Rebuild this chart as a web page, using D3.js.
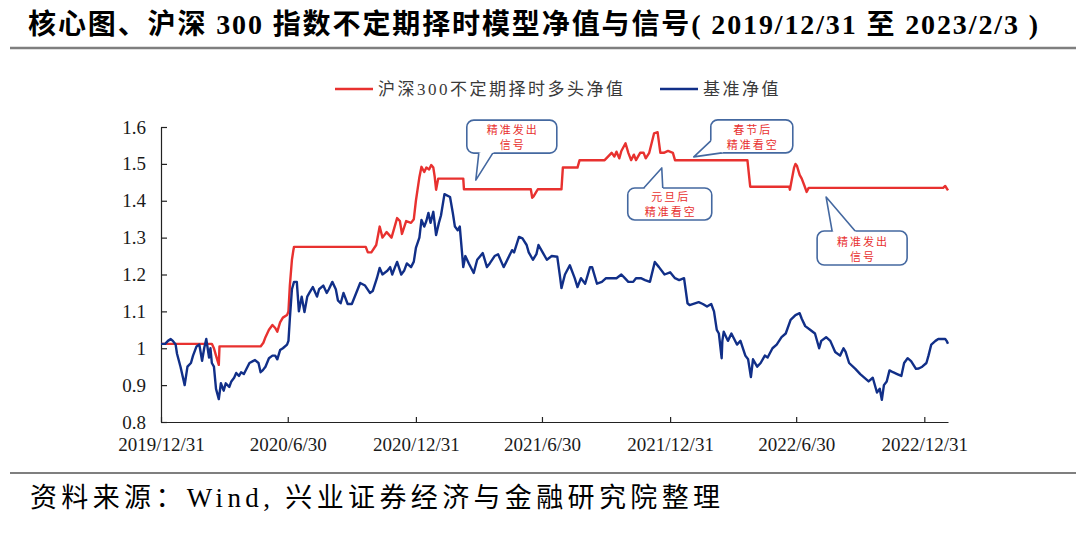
<!DOCTYPE html>
<html><head><meta charset="utf-8">
<script src="https://cdn.jsdelivr.net/npm/d3@7"></script>
<style>body{margin:0;background:#fff} svg{display:block}</style>
</head><body>
<script>
// ---------------- DATA ----------------
const baseDates = ["2019-12-31","2020-01-06","2020-01-10","2020-01-14","2020-01-17","2020-01-21","2020-01-23","2020-01-28","2020-02-03","2020-02-07","2020-02-12","2020-02-15","2020-02-20","2020-02-24","2020-02-28","2020-03-02","2020-03-05","2020-03-09","2020-03-11","2020-03-13","2020-03-16","2020-03-19","2020-03-23","2020-03-26","2020-03-30","2020-04-02","2020-04-07","2020-04-10","2020-04-14","2020-04-17","2020-04-21","2020-04-24","2020-04-28","2020-05-06","2020-05-11","2020-05-14","2020-05-19","2020-05-22","2020-05-25","2020-05-29","2020-06-03","2020-06-08","2020-06-12","2020-06-15","2020-06-19","2020-06-23","2020-06-29","2020-07-01","2020-07-03","2020-07-06","2020-07-09","2020-07-13","2020-07-16","2020-07-20","2020-07-24","2020-07-28","2020-07-31","2020-08-05","2020-08-11","2020-08-14","2020-08-20","2020-08-25","2020-08-28","2020-09-02","2020-09-07","2020-09-10","2020-09-14","2020-09-18","2020-09-24","2020-09-30","2020-10-12","2020-10-19","2020-10-26","2020-10-30","2020-11-05","2020-11-09","2020-11-13","2020-11-20","2020-11-24","2020-11-27","2020-12-01","2020-12-04","2020-12-10","2020-12-14","2020-12-18","2020-12-24","2020-12-28","2020-12-31","2021-01-05","2021-01-08","2021-01-12","2021-01-15","2021-01-18","2021-01-21","2021-01-25","2021-01-29","2021-02-02","2021-02-05","2021-02-10","2021-02-18","2021-02-22","2021-02-25","2021-03-01","2021-03-04","2021-03-09","2021-03-12","2021-03-17","2021-03-24","2021-03-29","2021-04-06","2021-04-12","2021-04-16","2021-04-23","2021-04-28","2021-05-06","2021-05-10","2021-05-18","2021-05-21","2021-05-28","2021-06-02","2021-06-08","2021-06-11","2021-06-17","2021-06-22","2021-06-25","2021-07-01","2021-07-07","2021-07-14","2021-07-22","2021-07-26","2021-07-28","2021-08-02","2021-08-09","2021-08-16","2021-08-20","2021-08-25","2021-08-31","2021-09-07","2021-09-10","2021-09-17","2021-09-24","2021-09-30","2021-10-11","2021-10-15","2021-10-22","2021-10-27","2021-11-01","2021-11-08","2021-11-12","2021-11-19","2021-11-25","2021-12-02","2021-12-09","2021-12-15","2021-12-23","2021-12-31","2022-01-07","2022-01-13","2022-01-20","2022-01-25","2022-01-28","2022-02-10","2022-02-16","2022-02-22","2022-02-28","2022-03-04","2022-03-08","2022-03-11","2022-03-15","2022-03-16","2022-03-18","2022-03-24","2022-03-29","2022-04-06","2022-04-11","2022-04-18","2022-04-22","2022-04-26","2022-04-29","2022-05-05","2022-05-10","2022-05-16","2022-05-20","2022-05-27","2022-06-02","2022-06-09","2022-06-15","2022-06-22","2022-06-29","2022-07-05","2022-07-08","2022-07-13","2022-07-20","2022-07-27","2022-08-02","2022-08-05","2022-08-12","2022-08-18","2022-08-25","2022-09-01","2022-09-06","2022-09-09","2022-09-14","2022-09-23","2022-09-30","2022-10-12","2022-10-18","2022-10-24","2022-10-28","2022-10-31","2022-11-03","2022-11-07","2022-11-11","2022-11-16","2022-11-22","2022-11-28","2022-12-02","2022-12-07","2022-12-12","2022-12-19","2022-12-23","2022-12-28","2023-01-03","2023-01-06","2023-01-10","2023-01-16","2023-01-20","2023-01-30","2023-02-01","2023-02-03"];
const baseValues = [1.012,1.012,1.02,1.025,1.02,1.01,0.985,0.95,0.90,0.95,0.96,0.98,1.005,1.01,0.966,1.0,1.025,0.975,1.0,0.96,0.95,0.89,0.862,0.905,0.885,0.905,0.895,0.91,0.92,0.933,0.925,0.935,0.93,0.96,0.965,0.968,0.96,0.935,0.94,0.95,0.973,0.98,0.98,0.97,0.995,1.0,1.01,1.02,1.08,1.16,1.18,1.18,1.10,1.14,1.098,1.14,1.15,1.166,1.14,1.16,1.17,1.15,1.16,1.18,1.16,1.13,1.122,1.15,1.12,1.12,1.177,1.17,1.15,1.155,1.19,1.218,1.2,1.21,1.22,1.2,1.22,1.234,1.20,1.21,1.23,1.22,1.235,1.272,1.30,1.348,1.33,1.345,1.367,1.34,1.37,1.307,1.34,1.36,1.418,1.41,1.367,1.33,1.32,1.33,1.22,1.25,1.23,1.204,1.24,1.258,1.22,1.23,1.25,1.255,1.22,1.235,1.266,1.26,1.302,1.298,1.28,1.26,1.24,1.255,1.28,1.26,1.24,1.25,1.248,1.193,1.163,1.2,1.225,1.19,1.166,1.19,1.175,1.22,1.22,1.175,1.18,1.19,1.19,1.19,1.2,1.19,1.18,1.18,1.19,1.19,1.185,1.18,1.234,1.22,1.2,1.206,1.19,1.185,1.19,1.122,1.117,1.125,1.12,1.113,1.12,1.10,1.05,1.04,0.973,1.02,1.045,1.02,1.04,1.01,1.02,0.98,0.97,0.922,0.97,0.95,0.96,0.98,0.975,1.0,1.01,1.03,1.04,1.077,1.09,1.095,1.08,1.06,1.05,1.04,1.00,1.02,1.03,1.02,0.99,0.98,1.0,0.99,0.96,0.944,0.93,0.91,0.92,0.88,0.89,0.86,0.90,0.91,0.94,0.935,0.93,0.925,0.96,0.973,0.965,0.944,0.945,0.95,0.96,0.98,1.01,1.02,1.025,1.025,1.02,1.012];

const modelDates = ["2019-12-31","2020-03-13","2020-03-16","2020-03-19","2020-03-23","2020-03-24","2020-05-22","2020-05-26","2020-05-29","2020-06-03","2020-06-08","2020-06-12","2020-06-15","2020-06-19","2020-06-23","2020-06-29","2020-07-01","2020-07-03","2020-07-06","2020-07-08","2020-07-09","2020-10-20","2020-10-23","2020-10-28","2020-11-04","2020-11-09","2020-11-13","2020-11-19","2020-11-26","2020-12-04","2020-12-08","2020-12-11","2020-12-17","2020-12-24","2020-12-28","2020-12-31","2021-01-05","2021-01-08","2021-01-12","2021-01-15","2021-01-19","2021-01-22","2021-01-25","2021-01-27","2021-01-29","2021-02-01","2021-03-09","2021-03-10","2021-06-14","2021-06-16","2021-06-18","2021-06-22","2021-06-24","2021-07-28","2021-07-30","2021-08-20","2021-08-23","2021-09-28","2021-10-08","2021-10-12","2021-10-15","2021-10-19","2021-10-22","2021-10-28","2021-11-01","2021-11-05","2021-11-09","2021-11-12","2021-11-18","2021-11-23","2021-11-26","2021-12-01","2021-12-08","2021-12-13","2021-12-17","2021-12-22","2021-12-28","2022-01-04","2022-01-07","2022-04-21","2022-04-25","2022-06-20","2022-06-21","2022-06-23","2022-06-27","2022-06-29","2022-07-01","2022-07-05","2022-07-08","2022-07-12","2022-07-15","2022-07-18","2023-01-27","2023-01-30","2023-02-03"];
const modelValues = [1.012,1.012,1.0,0.98,0.955,1.005,1.005,1.015,1.03,1.05,1.063,1.055,1.045,1.07,1.083,1.09,1.10,1.17,1.24,1.265,1.275,1.275,1.26,1.26,1.28,1.33,1.30,1.315,1.30,1.353,1.345,1.31,1.345,1.34,1.35,1.40,1.464,1.492,1.478,1.49,1.485,1.497,1.49,1.465,1.43,1.46,1.46,1.431,1.431,1.408,1.412,1.425,1.431,1.431,1.49,1.49,1.51,1.51,1.53,1.52,1.533,1.515,1.535,1.556,1.53,1.51,1.525,1.51,1.53,1.53,1.515,1.53,1.583,1.586,1.53,1.53,1.535,1.53,1.51,1.51,1.438,1.438,1.43,1.45,1.49,1.50,1.495,1.47,1.46,1.44,1.424,1.435,1.435,1.44,1.428];

const seriesNames = ["沪深300不定期择时多头净值", "基准净值"];
const xTickDates = ["2019-12-31","2020-06-30","2020-12-31","2021-06-30","2021-12-31","2022-06-30","2022-12-31"];
const xTickLabels = ["2019/12/31","2020/6/30","2020/12/31","2021/6/30","2021/12/31","2022/6/30","2022/12/31"];
const yTickValues = [0.8,0.9,1.0,1.1,1.2,1.3,1.4,1.5,1.6];
const yTickLabels = ["0.8","0.9","1","1.1","1.2","1.3","1.4","1.5","1.6"];
const calloutTexts = [["精准发出","信号"],["元旦后","精准看空"],["春节后","精准看空"],["精准发出","信号"]];
const calloutAnchorDates = ["2021-03-27","2021-12-19","2022-02-03","2022-08-12"];
const calloutAnchorValues = [1.456,1.489,1.519,1.410];
const titleText = "核心图、沪深 300 指数不定期择时模型净值与信号( 2019/12/31 至 2023/2/3 )";
const sourceText = "资料来源：Wind, 兴业证券经济与金融研究院整理";

// ---------------- LAYOUT ----------------
const W = 1080, H = 535;
const RED = "#e8312f", BLUE = "#112f88", BOXC = "#4468a0";
const calloutLayout = [
  {box:[-9,81,-60,-27], b1:[3,-27], b2:[17,-27]},
  {box:[-34,50,20,52], b1:[-18,20], b2:[1,20]},
  {box:[17,99,-37,-4], b1:[17,-16], b2:[28,-4]},
  {box:[-9,81,34,68], b1:[6,34], b2:[29,34]}
];

const parse = d3.timeParse("%Y-%m-%d");
const svg = d3.select("body").append("svg").attr("width", W).attr("height", H)
  .style("background", "#fff");

const x = d3.scaleTime().domain([parse("2019-12-31"), parse("2023-02-03")]).range([161, 948]);
const y = d3.scaleLinear().domain([0.8, 1.6]).range([422, 127]);

// Title
svg.append("text").attr("x", 28).attr("y", 34)
  .attr("font-family", "'Liberation Serif','Noto Sans CJK SC',serif")
  .attr("font-weight", "bold").attr("font-size", 28).attr("fill", "#000")
  .attr("textLength", 1010).attr("lengthAdjust", "spacing")
  .text(titleText);
svg.append("line").attr("x1", 10).attr("x2", 1076).attr("y1", 48).attr("y2", 48)
  .attr("stroke", "#7f7f7f").attr("stroke-width", 2.5);

// Footer
svg.append("line").attr("x1", 10).attr("x2", 1076).attr("y1", 473).attr("y2", 473)
  .attr("stroke", "#7f7f7f").attr("stroke-width", 2);
svg.append("text").attr("x", 30).attr("y", 507)
  .attr("font-family", "'Liberation Serif','Noto Sans CJK SC',serif")
  .attr("font-size", 27).attr("fill", "#000")
  .attr("textLength", 690).attr("lengthAdjust", "spacing")
  .text(sourceText);

// Legend
const legend = [
  {name: seriesNames[0], color: RED, x0: 335},
  {name: seriesNames[1], color: BLUE, x0: 660}
];
legend.forEach(l => {
  svg.append("line").attr("x1", l.x0).attr("x2", l.x0 + 38).attr("y1", 89).attr("y2", 89)
    .attr("stroke", l.color).attr("stroke-width", 2.5);
  svg.append("text").attr("x", l.x0 + 43).attr("y", 95)
    .attr("font-family", "'Liberation Serif','Noto Sans CJK SC',serif")
    .attr("font-size", 17).attr("letter-spacing", 2.5).attr("fill", "#3a3a3a")
    .text(l.name);
});

// Axes
const yAxis = d3.axisLeft(y).tickValues(yTickValues)
  .tickFormat((d, i) => yTickLabels[i]).tickSizeInner(-6).tickSizeOuter(0).tickPadding(15);
const gy = svg.append("g").attr("transform", "translate(161,0)").call(yAxis);
const xAxis = d3.axisBottom(x).tickValues(xTickDates.map(parse))
  .tickFormat((d, i) => xTickLabels[i]).tickSizeInner(-5).tickSizeOuter(0).tickPadding(16);
const gx = svg.append("g").attr("transform", "translate(0,422)").call(xAxis);
[gx, gy].forEach(g => {
  g.selectAll("path.domain").attr("stroke", "#222").attr("stroke-width", 1.2);
  g.selectAll(".tick line").attr("stroke", "#222").attr("stroke-width", 1.2);
  g.selectAll(".tick text").attr("font-family", "'Liberation Serif',serif")
    .attr("font-size", 19).attr("fill", "#1a1a1a");
});

// Lines
const line = d3.line().x(d => x(d[0])).y(d => y(d[1]));
const modelData = modelDates.map((d, i) => [parse(d), modelValues[i]]);
const baseData = baseDates.map((d, i) => [parse(d), baseValues[i]]);
svg.append("path").datum(modelData).attr("d", line).attr("fill", "none")
  .attr("stroke", RED).attr("stroke-width", 2.4).attr("stroke-linejoin", "round");
svg.append("path").datum(baseData).attr("d", line).attr("fill", "none")
  .attr("stroke", BLUE).attr("stroke-width", 2.4).attr("stroke-linejoin", "round");

// Callouts
calloutTexts.forEach((lines, i) => {
  const tx = x(parse(calloutAnchorDates[i])), ty = y(calloutAnchorValues[i]);
  const L = calloutLayout[i];
  const bx0 = tx + L.box[0], bx1 = tx + L.box[1], by0 = ty + L.box[2], by1 = ty + L.box[3];
  const cx = (bx0 + bx1) / 2, cy = (by0 + by1) / 2;
  const g = svg.append("g");
  g.append("rect").attr("x", bx0).attr("y", by0).attr("width", bx1 - bx0).attr("height", by1 - by0)
    .attr("rx", 7).attr("fill", "#fff").attr("stroke", BOXC).attr("stroke-width", 1.6);
  const p1 = [tx + L.b1[0], ty + L.b1[1]], p2 = [tx + L.b2[0], ty + L.b2[1]];
  const inward = p => {
    const dx = cx - p[0], dy = cy - p[1], n = Math.hypot(dx, dy);
    return [p[0] + dx / n * 2.5, p[1] + dy / n * 2.5];
  };
  g.append("path").attr("d", d3.line()([p1, [tx, ty], p2, inward(p2), inward(p1)]) + "Z")
    .attr("fill", "#fff").attr("stroke", "none");
  g.append("path").attr("d", d3.line()([p1, [tx, ty], p2]))
    .attr("fill", "none").attr("stroke", BOXC).attr("stroke-width", 1.6).attr("stroke-linejoin", "round");
  lines.forEach((t, j) => {
    g.append("text").attr("x", cx + 1).attr("y", cy + (j === 0 ? -7.5 : 7.5))
      .attr("text-anchor", "middle").attr("dominant-baseline", "central")
      .attr("font-family", "'Noto Sans CJK SC',sans-serif").attr("font-size", 11)
      .attr("letter-spacing", 2).attr("fill", RED).text(t);
  });
});
</script>
</body></html>
